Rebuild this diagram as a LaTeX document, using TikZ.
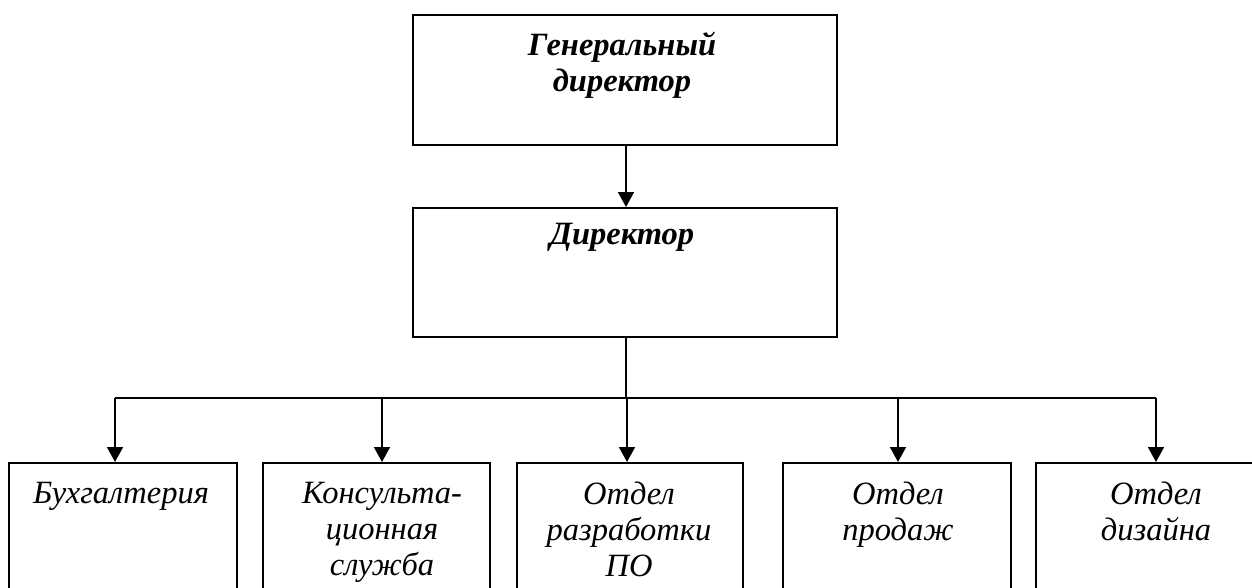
\documentclass[tikz,border=0pt]{standalone}
\usepackage{fontspec}
\setmainfont{Liberation Serif}
\usetikzlibrary{arrows.meta}
\tikzset{
  box/.style={draw, line width=1.7pt, rectangle, inner sep=0pt, anchor=north west},
  lbl/.style={anchor=north, align=center, inner sep=0pt, font=\fontsize{32.5}{36}\selectfont\itshape},
  blbl/.style={anchor=north, align=center, inner sep=0pt, font=\fontsize{32.5}{36}\selectfont\bfseries\itshape},
  conn/.style={line width=1.7pt},
  arr/.style={line width=1.7pt, -{Triangle[width=16pt,length=15pt]}}
}
\begin{document}
\begin{tikzpicture}[x=1pt,y=-1pt]
\useasboundingbox (0,0) rectangle (1252,587);
% boxes
\node[box, minimum width=424pt, minimum height=130pt] (gd) at (412,14) {};
\node[box, minimum width=424pt, minimum height=129pt] (d) at (412,207) {};
\node[box, minimum width=228pt, minimum height=160pt] (b1) at (8,462) {};
\node[box, minimum width=227pt, minimum height=160pt] (b2) at (262,462) {};
\node[box, minimum width=226pt, minimum height=160pt] (b3) at (516,462) {};
\node[box, minimum width=228pt, minimum height=160pt] (b4) at (782,462) {};
\node[box, minimum width=240pt, minimum height=160pt] (b5) at (1035,462) {};
% texts
\node[blbl] (tgd) at (622,32) {Генеральный\\директор};
\node[blbl] (td) at (622,223) {Директор};
\node[lbl] (t1) at (121,482) {Бухгалтерия};
\node[lbl] (t2) at (382,482) {Консульта-\\ционная\\служба};
\node[lbl] (t3) at (629,482) {Отдел\\разработки\\ПО};
\node[lbl] (t4) at (898,482) {Отдел\\продаж};
\node[lbl] (t5) at (1156,482) {Отдел\\дизайна};
% connectors
\coordinate (bus) at (626,398);
\coordinate (busL) at (115,398);
\coordinate (busR) at (1156,398);
\draw[arr] (gd.south -| bus) -- (d.north -| bus);
\draw[conn] (d.south -| bus) -- (bus);
\draw[conn] (busL) -- (busR);
\draw[arr] (busL) -- (b1.north -| busL);
\draw[arr] (382,398) -- (b2.north -| 382,0);
\draw[arr] (627,398) -- (b3.north -| 627,0);
\draw[arr] (898,398) -- (b4.north -| 898,0);
\draw[arr] (busR) -- (b5.north -| busR);
\end{tikzpicture}
\end{document}
